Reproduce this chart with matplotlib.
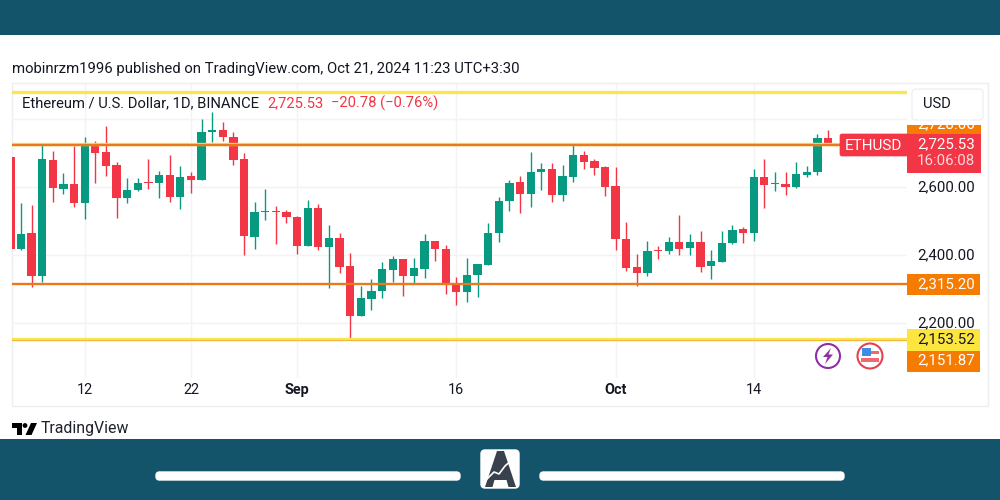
"""TradingView ETHUSD daily candles screenshot, with the site chrome around it."""

import matplotlib
matplotlib.use("Agg")
import matplotlib.pyplot as plt
from matplotlib.patches import Circle, FancyBboxPatch, Polygon, Rectangle

# candles, index 0 is cut off by the left edge of the pane
opens = [2690, 2419, 2466, 2340, 2680, 2596, 2610, 2554, 2722, 2704,
         2666, 2568, 2592, 2616, 2612, 2637, 2573, 2632, 2622, 2764,
         2769, 2748, 2682, 2455, 2527, 2531, 2526, 2513, 2428, 2538,
         2425, 2451, 2369, 2223, 2272, 2295, 2357, 2389, 2339, 2361,
         2442, 2419, 2316, 2292, 2342, 2372, 2466, 2560, 2615, 2580,
         2645, 2654, 2577, 2630, 2695, 2676, 2660, 2604, 2448, 2366,
         2348, 2416, 2413, 2439, 2422, 2439, 2369, 2380, 2435, 2477,
         2466, 2629, 2610, 2610, 2601, 2637, 2645, 2745]
highs = [2690, 2554, 2548, 2724, 2707, 2642, 2722, 2748, 2736, 2780,
         2674, 2627, 2627, 2683, 2648, 2695, 2662, 2645, 2800, 2821,
         2792, 2763, 2700, 2557, 2595, 2545, 2533, 2516, 2563, 2551,
         2489, 2466, 2407, 2310, 2331, 2380, 2398, 2389, 2392, 2463,
         2442, 2430, 2336, 2392, 2375, 2494, 2572, 2622, 2633, 2704,
         2672, 2672, 2666, 2727, 2706, 2683, 2663, 2659, 2498, 2404,
         2442, 2428, 2455, 2519, 2463, 2472, 2416, 2472, 2489, 2484,
         2654, 2683, 2645, 2645, 2674, 2663, 2757, 2769]
lows = [2419, 2416, 2308, 2323, 2558, 2580, 2543, 2507, 2614, 2633,
        2511, 2554, 2589, 2596, 2568, 2558, 2536, 2584, 2622, 2733,
        2736, 2666, 2401, 2419, 2504, 2433, 2494, 2403, 2428, 2416,
        2305, 2348, 2151.87, 2223, 2240, 2275, 2322, 2281, 2316, 2334,
        2384, 2287, 2254, 2264, 2278, 2372, 2439, 2530, 2525, 2541,
        2592, 2557, 2560, 2616, 2654, 2635, 2575, 2416, 2353, 2310,
        2339, 2389, 2404, 2400, 2400, 2350, 2330, 2380, 2433, 2436,
        2442, 2539, 2589, 2577, 2598, 2630, 2636, 2725.53]
closes = [2419, 2463, 2340, 2683, 2599, 2610, 2554, 2722, 2701, 2662,
          2568, 2593, 2614, 2613, 2637, 2573, 2630, 2622, 2763, 2769,
          2748, 2680, 2457, 2527, 2531, 2527, 2513, 2428, 2539, 2425,
          2450, 2366, 2223, 2275, 2295, 2360, 2389, 2339, 2363, 2442,
          2419, 2316, 2292, 2342, 2375, 2466, 2560, 2613, 2580, 2645,
          2654, 2577, 2633, 2695, 2674, 2657, 2601, 2448, 2363, 2348,
          2413, 2414, 2439, 2419, 2439, 2366, 2383, 2436, 2476, 2466,
          2630, 2607, 2613, 2601, 2639, 2645, 2745, 2725.53]

date_ticks = [7, 17, 27, 42, 57, 70]
date_labels = ["12", "22", "Sep", "16", "Oct", "14"]
price_ticks = [2200, 2400, 2600]
price_grid = [2200, 2400, 2600, 2800]

# hand drawn levels on the chart
orange_levels = [2725.53, 2315.20, 2151.87]
yellow_levels = [2880, 2728.06, 2153.52]

GREEN = "#089981"
RED = "#f23645"
ORANGE = "#f57c00"
LINE_ORANGE = "#e9791c"
YELLOW = "#fbe64d"
BAND = "#14546a"
GRID = "#f2f3f5"
TEXT = "#131722"

plt.rcParams["font.family"] = ["Roboto", "DejaVu Sans"]

fig = plt.figure(figsize=(10, 5), dpi=100, facecolor="white")

# page layer in pixel coordinates
page = fig.add_axes([0, 0, 1, 1], zorder=0)
page.set_xlim(0, 1000)
page.set_ylim(500, 0)
page.axis("off")
page.add_patch(Rectangle((0, 0), 1000, 34.5, color=BAND, lw=0))
page.add_patch(Rectangle((0, 439), 1000, 61, color=BAND, lw=0))
page.add_patch(Rectangle((12, 83), 976, 323, fc="white", ec="#eceef1", lw=1))
page.text(12, 69.5, "mobinrzm1996 published on TradingView.com, Oct 21, 2024 11:23 UTC+3:30",
          fontsize=10.7, color=TEXT, va="center", ha="left")

# price pane
ax = fig.add_axes([12 / 1000, 1 - 378 / 500, 895 / 1000, 294 / 500], zorder=1)
ax.patch.set_alpha(0)
ax.set_xlim(0.152, 84.44)
ax.set_ylim(2039.4, 2903.8)
for side in ax.spines.values():
    side.set_visible(False)
ax.set_yticks(price_grid)
ax.set_xticks(date_ticks)
ax.tick_params(length=0, labelbottom=False, labelleft=False)
ax.grid(True, color=GRID, lw=1)
ax.set_axisbelow(True)

idx = list(range(len(opens)))
colors = [GREEN if c >= o else RED for o, c in zip(opens, closes)]
ax.vlines(idx, lows, highs, colors=colors, lw=1.0, zorder=3)
ax.bar(idx, [abs(c - o) for o, c in zip(opens, closes)], bottom=[min(o, c) for o, c in zip(opens, closes)],
       width=0.78, color=colors, lw=0, zorder=3)

for level in yellow_levels:
    ax.axhline(level, color=YELLOW, lw=2.4, zorder=4)
for level in orange_levels[:2]:
    ax.axhline(level, color=LINE_ORANGE, lw=1.7, zorder=5)
ax.axhline(orange_levels[2], color="#f4b63c", lw=0.8, zorder=5)

# labels and tags on top
top = fig.add_axes([0, 0, 1, 1], zorder=2)
top.set_xlim(0, 1000)
top.set_ylim(500, 0)
top.axis("off")
top.patch.set_alpha(0)

# pane x labels
for tick, label in zip(date_ticks, date_labels):
    px = 21 + 10.618 * (tick - 1)
    top.text(px, 390, label, fontsize=10.4, color=TEXT, ha="center", va="center",
             fontweight="bold" if label in ("Sep", "Oct") else "normal")

for tick in price_ticks:
    py = 187.33 + (2600 - tick) / 2.94
    top.text(975, py - 0.5, f"{tick:,.2f}", fontsize=10.8, color=TEXT, ha="right", va="center")

top.text(22, 103, "Ethereum / U.S. Dollar, 1D, BINANCE", fontsize=10.65, color=TEXT, va="center")
top.text(267, 103, "2,725.53", fontsize=10.65, color=RED, va="center")
top.text(331, 103, "\u221220.78 (\u22120.76%)", fontsize=10.65, color=RED, va="center")

# orange tag cut off by the USD row above it
top.add_patch(Rectangle((907, 122), 74, 14, color=ORANGE, lw=0))
top.text(975, 124, "2,728.06", fontsize=10.8, color="white", ha="right", va="center")
top.add_patch(Rectangle((907, 110), 80, 15, color="white", lw=0))
top.add_patch(FancyBboxPatch((912, 89), 71, 31, boxstyle="round,pad=0,rounding_size=4",
                             fc="white", ec="#eef0f3", lw=1))
top.text(923, 104, "USD", fontsize=10.6, color=TEXT, va="center")

# last price tags
top.add_patch(FancyBboxPatch((840, 134), 69, 22, boxstyle="round,pad=0,rounding_size=2", fc=RED, ec=RED, lw=0.5))
top.text(873, 145.5, "ETHUSD", fontsize=11, color="white", ha="center", va="center")
top.add_patch(Rectangle((907, 134), 74, 38.5, color=RED, lw=0))
top.text(975, 144, "2,725.53", fontsize=10.8, color="white", ha="right", va="center")
top.text(975, 161, "16:06:08", fontsize=10.8, color="#fbd5d9", ha="right", va="center")

top.add_patch(Rectangle((907, 274), 73, 21, color=ORANGE, lw=0))
top.text(975, 284.5, "2,315.20", fontsize=10.8, color="white", ha="right", va="center")
top.add_patch(Rectangle((907, 329), 73, 22, color="#fde53f", lw=0))
top.text(975, 339, "2,153.52", fontsize=10.8, color=TEXT, ha="right", va="center")
top.add_patch(Rectangle((907, 351), 73, 21, color=ORANGE, lw=0))
top.text(975, 360, "2,151.87", fontsize=10.8, color="white", ha="right", va="center")

# event icons
top.add_patch(Circle((828, 356), 12, fc="white", ec="#8e2fa8", lw=1.5))
top.add_patch(Polygon([(831, 348), (823, 357), (827.5, 357), (825, 364), (833, 354.5), (828.5, 354.5)],
                      color="#8e2fa8", lw=0))
top.add_patch(Circle((870, 356), 12.5, fc="white", ec="#e2434f", lw=1.5))
top.add_patch(Rectangle((861, 358), 18, 3.5, color="#ef6a6e", lw=0))
top.add_patch(Rectangle((863, 351), 16, 3, color="#ef6a6e", lw=0))
top.add_patch(Rectangle((861.5, 347.5), 9.5, 8.5, color="#3f8ce8", lw=0))

# TradingView logo
top.add_patch(Polygon([(12, 423), (22, 423), (22, 435), (17, 435), (17, 428), (12, 428)], color="black", lw=0))
top.add_patch(Circle((25, 425.5), 2.4, color="black", lw=0))
top.add_patch(Polygon([(31, 423), (37, 423), (31.5, 435), (25.5, 435)], color="black", lw=0))
top.text(41, 429, "TradingView", fontsize=11.4, color="#1e222d", va="center")

# footer bars and badge
for x0 in (155, 539):
    top.add_patch(FancyBboxPatch((x0 + 1, 472), 304, 8, boxstyle="round,pad=0,rounding_size=3.5",
                                 fc="white", ec="white", lw=1))
top.add_patch(FancyBboxPatch((481, 450), 38, 38, boxstyle="round,pad=0,rounding_size=4",
                             fc="white", ec="white", lw=1))
top.add_patch(Polygon([(497, 451), (504, 451), (516, 487), (508.5, 487), (506.5, 480), (494.5, 480), (492.5, 487), (485, 487)],
                      color="#39424c", lw=0))
top.plot([486, 494, 499, 505, 513], [480, 472, 474, 466, 459], color="white", lw=1.2)

fig.savefig("out.png", dpi=100)
plt.close(fig)
